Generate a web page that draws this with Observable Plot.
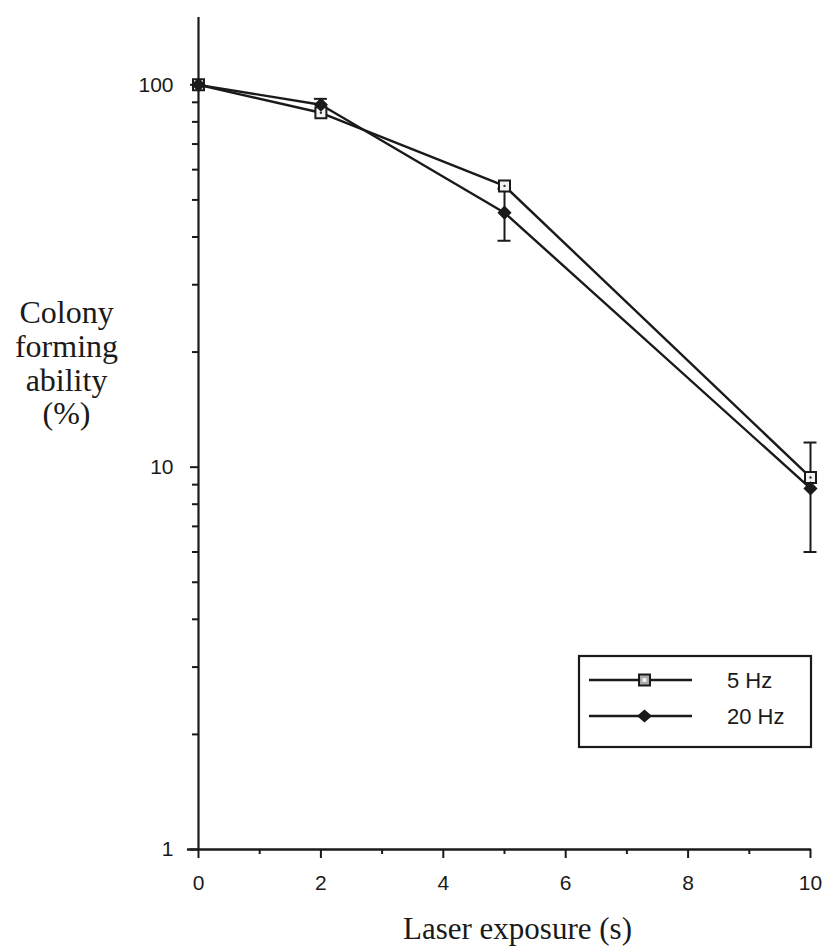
<!DOCTYPE html>
<html>
<head>
<meta charset="utf-8">
<script src="https://cdn.jsdelivr.net/npm/d3@7"></script>
<script src="https://cdn.jsdelivr.net/npm/@observablehq/plot@0.6"></script>
<style>
  body { margin: 0; background: #fff; }
  #chart { position: relative; width: 827px; height: 948px; }
</style>
</head>
<body>
<div id="chart"></div>
<script>
// Laser exposure time (s) and colony forming ability (%) for two pulse rates
const exposure = [0, 2, 5, 10];
const hz5 = [100, 84.5, 54.4, 9.4];
const hz20 = [100, 88.7, 46.3, 8.8];
const hz20Err = [0, 3.2, 7.2, 2.8];
const seriesNames = ["5 Hz", "20 Hz"];

const xMajor = [0, 2, 4, 6, 8, 10];
const xMinor = [1, 3, 5, 7, 9];
const yMajor = [1, 10, 100];
const yMinor = [2, 3, 4, 5, 6, 7, 8, 9, 20, 30, 40, 50, 60, 70, 80, 90];
const yTitle = ["Colony", "forming", "ability", "(%)"];
const xTitle = "Laser exposure (s)";

const rows5 = exposure.map((x, i) => ({x, y: hz5[i]}));
const rows20 = exposure.map((x, i) => ({x, y: hz20[i], e: hz20Err[i]}));
const errRows = rows20.filter(d => d.e > 0);

const SANS = "'Liberation Sans', Arial, Helvetica, sans-serif";
const SERIF = "'Liberation Serif', 'Times New Roman', Times, serif";
const INK = "#1a1a1a";

const squareR = 6.2;   // open square marker
const diamondR = 5.6;  // filled diamond marker

const chart = Plot.plot({
  width: 827,
  height: 948,
  marginLeft: 198,
  marginRight: 17,
  marginTop: 17,
  marginBottom: 99,
  style: {fontFamily: SANS, color: INK, background: "#fff"},
  x: {domain: [0, 10]},
  y: {type: "log", domain: [1, 150]},
  marks: [
    // axes
    Plot.axisY({ticks: yMajor, tickSize: 8, tickPadding: 17, tickFormat: d => String(d),
      fontSize: 21, strokeWidth: 2, label: null}),
    Plot.axisY({ticks: yMinor, tickSize: 6, tickFormat: () => "", strokeWidth: 2, label: null}),
    Plot.axisX({ticks: xMajor, tickSize: 9, tickPadding: 17, tickFormat: d => String(d),
      fontSize: 21, strokeWidth: 2, label: null}),
    Plot.axisX({ticks: xMinor, tickSize: 5, tickFormat: () => "", strokeWidth: 2, label: null}),
    Plot.ruleX([0], {y1: 1, y2: 150, stroke: INK, strokeWidth: 2.2}),
    Plot.ruleY([1], {x1: 0, x2: 10, insetLeft: -11, insetRight: -1, stroke: INK, strokeWidth: 2.5}),

    // series lines
    Plot.line(rows5, {x: "x", y: "y", stroke: INK, strokeWidth: 2.4}),
    Plot.line(rows20, {x: "x", y: "y", stroke: INK, strokeWidth: 2.4}),

    // error bars (20 Hz)
    Plot.ruleX(errRows, {x: "x", y1: d => d.y - d.e, y2: d => d.y + d.e, stroke: INK, strokeWidth: 2}),
    Plot.ruleY(errRows, {y: d => d.y - d.e, x1: "x", x2: "x", insetLeft: -6.5, insetRight: -6.5, stroke: INK, strokeWidth: 2}),
    Plot.ruleY(errRows, {y: d => d.y + d.e, x1: "x", x2: "x", insetLeft: -6.5, insetRight: -6.5, stroke: INK, strokeWidth: 2}),

    // markers
    Plot.dot(rows5, {x: "x", y: "y", symbol: "square", r: squareR, fill: "#f2f2f2", stroke: INK, strokeWidth: 2}),
    Plot.dot(rows5, {x: "x", y: "y", r: 1.2, fill: "#333"}),
    Plot.dot(rows20, {x: "x", y: "y", symbol: "diamond2", r: diamondR, fill: INK, stroke: INK, strokeWidth: 1.2}),

    // axis titles
    Plot.text([xTitle], {text: d => d, frameAnchor: "bottom", dx: 13, dy: 89, lineAnchor: "bottom",
      fontSize: 31, fontFamily: SERIF, fill: INK}),
    Plot.text([yTitle.join("\n")], {text: d => d, frameAnchor: "top-left", dx: -132, dy: 282,
      lineAnchor: "top", textAnchor: "middle", lineHeight: 1.05, fontSize: 32, fontFamily: SERIF, fill: INK})
  ]
});

// legend box inside the plot area, lower right
const svg = d3.select(chart);
const lg = svg.append("g").attr("transform", "translate(578,655)");
lg.append("rect").attr("x", 1).attr("y", 1).attr("width", 232).attr("height", 91)
  .attr("fill", "#fff").attr("stroke", INK).attr("stroke-width", 2.2);
const entryY = [25, 61];
seriesNames.forEach((name, i) => {
  const g = lg.append("g").attr("transform", `translate(0,${entryY[i]})`);
  g.append("line").attr("x1", 11).attr("x2", 114).attr("y1", 0).attr("y2", 0)
    .attr("stroke", INK).attr("stroke-width", 2.4);
  if (i === 0) {
    g.append("rect").attr("x", 61).attr("y", -5.5).attr("width", 11).attr("height", 11)
      .attr("fill", "#aaa").attr("stroke", INK).attr("stroke-width", 2);
    g.append("rect").attr("x", 64.5).attr("y", -2).attr("width", 4).attr("height", 4).attr("fill", "#eee");
  } else {
    g.append("path").attr("transform", "translate(66.5,0)").attr("d", "M0,-6.5L7.5,0L0,6.5L-7.5,0Z")
      .attr("fill", INK);
  }
  g.append("text").attr("x", 149).attr("y", 0).attr("dy", "0.36em").attr("text-anchor", "start")
    .attr("font-family", SANS).attr("font-size", 22).attr("fill", INK).text(name);
});

document.getElementById("chart").appendChild(chart);
</script>
</body>
</html>
